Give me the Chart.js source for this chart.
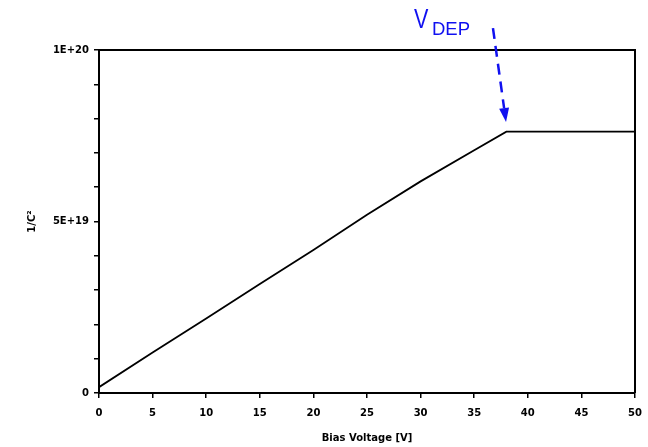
<!DOCTYPE html>
<html>
<head>
<meta charset="utf-8">
<script src="https://cdn.jsdelivr.net/npm/chart.js@4"></script>
<style>
  html, body { margin: 0; padding: 0; background: #fff; }
  #wrap { position: relative; width: 648px; height: 447px; }
</style>
</head>
<body>
<div id="wrap"><canvas id="cv" width="648" height="447"></canvas></div>
<script>
// 1/C^2 vs bias voltage, full depletion at ~38 V
const biasVolts = [0, 5, 10, 15, 20, 25, 30, 35, 38, 40, 45, 50];
const invC2 = [0.017e20, 0.118e20, 0.217e20, 0.318e20, 0.417e20, 0.52e20, 0.617e20, 0.708e20, 0.762e20, 0.762e20, 0.762e20, 0.762e20];
const yTickLabels = { 0: '0', 5e19: '5E+19', 1e20: '1E+20' };
const vdepArrow = { from: [36.75, 1.064e20], to: [37.97, 0.79e20] };

const tickFont = { family: "'DejaVu Sans', sans-serif", size: 10, weight: 'bold' };

const framePlugin = {
  id: 'frame',
  afterDraw(chart) {
    const { ctx, chartArea: a, scales } = chart;
    ctx.save();
    ctx.strokeStyle = '#000';
    ctx.lineWidth = 2;
    ctx.beginPath();
    ctx.moveTo(a.left, a.top); ctx.lineTo(a.right, a.top); ctx.lineTo(a.right, a.bottom);
    ctx.stroke();

    // V_DEP label + dashed arrow
    const x0 = scales.x.getPixelForValue(vdepArrow.from[0]);
    const y0 = scales.y.getPixelForValue(vdepArrow.from[1]);
    const x1 = scales.x.getPixelForValue(vdepArrow.to[0]);
    const y1 = scales.y.getPixelForValue(vdepArrow.to[1]);
    const ang = Math.atan2(y1 - y0, x1 - x0);
    const headLen = 14;
    const bx = x1 - headLen * Math.cos(ang), by = y1 - headLen * Math.sin(ang);
    ctx.strokeStyle = '#1010f0';
    ctx.fillStyle = '#1010f0';
    ctx.lineWidth = 2.5;
    ctx.setLineDash([11, 7]);
    ctx.beginPath(); ctx.moveTo(x0, y0); ctx.lineTo(bx, by); ctx.stroke();
    ctx.setLineDash([]);
    ctx.beginPath();
    ctx.moveTo(x1, y1);
    ctx.lineTo(bx + 5 * Math.sin(ang), by - 5 * Math.cos(ang));
    ctx.lineTo(bx - 5 * Math.sin(ang), by + 5 * Math.cos(ang));
    ctx.closePath(); ctx.fill();

    ctx.textBaseline = 'alphabetic';
    ctx.textAlign = 'left';
    ctx.save();
    ctx.translate(414, 28);
    ctx.scale(0.8, 1);
    ctx.font = "27px 'Liberation Sans', Arial, sans-serif";
    ctx.fillText('V', 0, 0);
    ctx.restore();
    ctx.font = "18.5px 'Liberation Sans', Arial, sans-serif";
    ctx.fillText('DEP', 432, 35);
    ctx.restore();
  }
};

new Chart(document.getElementById('cv'), {
  type: 'line',
  data: {
    labels: biasVolts,
    datasets: [{
      data: biasVolts.map((v, i) => ({ x: v, y: invC2[i] })),
      borderColor: '#000', borderWidth: 1.8, pointRadius: 0, tension: 0, fill: false
    }]
  },
  options: {
    responsive: false, animation: false,
    layout: { padding: { top: 50, right: 13, left: 0, bottom: 0 } },
    plugins: { legend: { display: false }, tooltip: { enabled: false } },
    scales: {
      x: {
        type: 'linear', min: 0, max: 50,
        afterFit: s => { s.height = 54; s.paddingRight = 0; s.paddingLeft = 0; },
        ticks: { stepSize: 5, color: '#000', font: tickFont, padding: 9, maxRotation: 0 },
        grid: { drawOnChartArea: false, drawTicks: true, tickLength: 5, color: '#000', lineWidth: 1.5 },
        border: { display: true, color: '#000', width: 2 },
        title: { display: true, text: 'Bias Voltage [V]', color: '#000', font: tickFont, padding: { top: 2, bottom: 3 } }
      },
      y: {
        min: 0, max: 1e20,
        afterFit: s => { s.width = 99; },
        afterBuildTicks: s => { s.ticks = []; for (let i = 0; i <= 10; i++) s.ticks.push({ value: i * 1e19 }); },
        ticks: { color: '#000', font: tickFont, padding: 5, callback: v => yTickLabels[v] ?? '' },
        grid: { drawOnChartArea: false, drawTicks: true, tickLength: 5, color: '#000', lineWidth: 1.5 },
        border: { display: true, color: '#000', width: 2 },
        title: { display: true, text: '1/C²', color: '#000', font: tickFont, padding: { top: 26, bottom: 0 } }
      }
    }
  },
  plugins: [framePlugin]
});
</script>
</body>
</html>
